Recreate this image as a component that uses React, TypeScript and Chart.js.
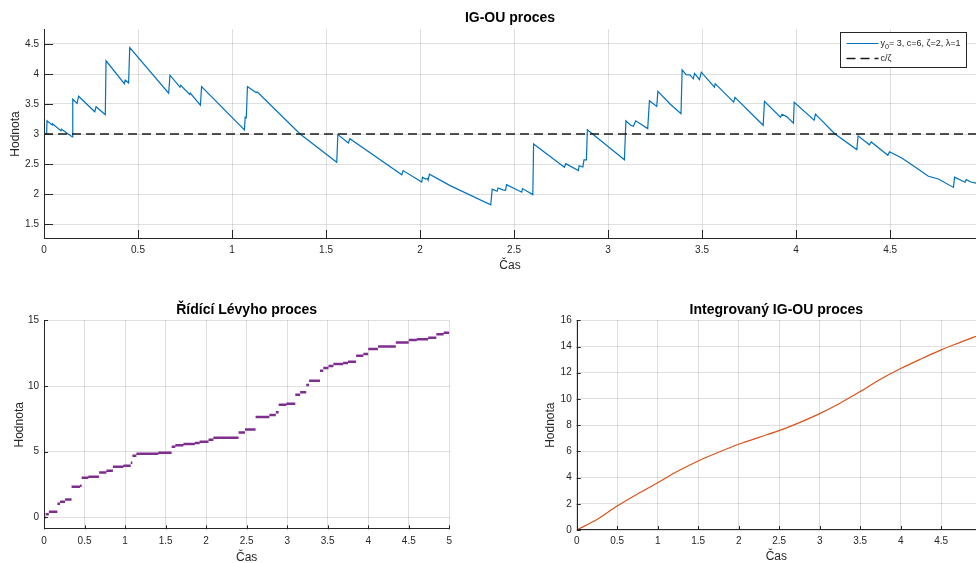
import React, { useEffect, useRef } from "react";
import { Chart, registerables } from "chart.js";

Chart.register(...registerables);

const FONT = "'Liberation Sans', Arial, Helvetica, sans-serif";
const TEXT = "#262626";
const GRID = "rgba(38,38,38,0.15)";

// ---------------- Panel 1: IG-OU proces ----------------
const igouTitle = "IG-OU proces";
const igouLabel = "y₀= 3, c=6, ζ=2, λ=1";
const meanLabel = "c/ζ";
const meanLevel = 3;
const igouTime = [
  0, 0.014, 0.016, 0.043, 0.045, 0.09, 0.093, 0.151, 0.153, 0.176, 0.184, 0.27, 0.277, 0.326, 0.33,
  0.427, 0.432, 0.45, 0.456, 0.663, 0.67, 0.723, 0.727, 0.775, 0.778, 0.832, 0.838, 1.066, 1.07,
  1.076, 1.082, 1.104, 1.128, 1.135, 1.362, 1.557, 1.563, 1.619, 1.627, 1.903, 1.91, 2.009, 2.013,
  2.03, 2.04, 2.043, 2.05, 2.16, 2.376, 2.384, 2.41, 2.415, 2.44, 2.455, 2.46, 2.541, 2.545, 2.6,
  2.604, 2.768, 2.775, 2.842, 2.846, 2.866, 2.872, 2.885, 2.89, 3.087, 3.095, 3.12, 3.135, 3.147,
  3.211, 3.22, 3.259, 3.265, 3.33, 3.388, 3.394, 3.415, 3.435, 3.454, 3.46, 3.486, 3.496, 3.566,
  3.57, 3.668, 3.675, 3.825, 3.832, 3.917, 3.925, 3.95, 3.986, 3.99, 4.096, 4.103, 4.207, 4.323,
  4.33, 4.39, 4.4, 4.488, 4.497, 4.562, 4.633, 4.704, 4.757, 4.837, 4.843, 4.899, 4.905, 4.93, 4.957,
];
const igouValue = [
  3.0, 3.0, 3.22, 3.15, 3.17, 3.055, 3.08, 2.95, 3.58, 3.51, 3.63, 3.37, 3.455, 3.32, 4.22,
  3.84, 3.9, 3.85, 4.44, 3.68, 3.98, 3.78, 3.81, 3.66, 3.68, 3.48, 3.79, 3.07, 3.28,
  3.27, 3.79, 3.74, 3.69, 3.7, 3.0, 2.53, 2.99, 2.85, 2.92, 2.32, 2.39, 2.2, 2.28,
  2.25, 2.26, 2.23, 2.33, 2.14, 1.82, 2.08, 2.045, 2.1, 2.07, 2.06, 2.155, 2.03, 2.09, 1.99,
  2.833, 2.445, 2.505, 2.39, 2.47, 2.45, 2.57, 2.57, 3.07, 2.57, 3.22, 3.145, 3.13, 3.22,
  3.09, 3.555, 3.46, 3.71, 3.5, 3.34, 4.07, 3.99, 3.985, 3.92, 4.01, 3.905, 4.03, 3.78,
  3.84, 3.53, 3.61, 3.145, 3.545, 3.28, 3.33, 3.29, 3.18, 3.53, 3.23, 3.33, 3.0, 2.74,
  2.97, 2.82, 2.867, 2.645, 2.705, 2.6, 2.45, 2.295, 2.25, 2.11, 2.28, 2.195, 2.24, 2.2, 2.18,
];
const igouXTicks = [0, 0.5, 1, 1.5, 2, 2.5, 3, 3.5, 4, 4.5];
const igouYTicks = [1.5, 2, 2.5, 3, 3.5, 4, 4.5];
const igouXRange = [0, 4.957];
const igouYRange = [1.25, 4.75];

// ---------------- Panel 2: Řídící Lévyho proces ----------------
const levyTitle = "Řídící Lévyho proces";
const levyStart = [
  0, 0.02, 0.06, 0.165, 0.198, 0.26, 0.34, 0.445, 0.465, 0.547, 0.68, 0.77, 0.85, 0.98, 1.07, 1.09,
  1.14, 1.41, 1.575, 1.62, 1.72, 1.86, 1.92, 2.03, 2.09, 2.4, 2.48, 2.61, 2.78, 2.86, 2.895, 2.99,
  3.1, 3.16, 3.235, 3.27, 3.405, 3.445, 3.51, 3.57, 3.69, 3.75, 3.85, 3.94, 4.0, 4.12, 4.34, 4.5,
  4.6, 4.74, 4.84, 4.93,
];
const levyEnd = [
  0.02, 0.06, 0.165, 0.198, 0.26, 0.34, 0.445, 0.465, 0.547, 0.68, 0.77, 0.85, 0.98, 1.07, 1.09, 1.14,
  1.41, 1.575, 1.62, 1.72, 1.86, 1.92, 2.03, 2.09, 2.4, 2.48, 2.61, 2.78, 2.86, 2.895, 2.99, 3.1,
  3.16, 3.235, 3.27, 3.405, 3.445, 3.51, 3.57, 3.69, 3.75, 3.85, 3.94, 4.0, 4.12, 4.34, 4.5, 4.6,
  4.74, 4.84, 4.93, 5.0,
];
const levyLevel = [
  0, 0.25, 0.43, 1.04, 1.19, 1.37, 2.33, 2.42, 3.02, 3.1, 3.43, 3.55, 3.86, 3.93, 4.16, 4.7,
  4.85, 4.92, 5.38, 5.5, 5.58, 5.66, 5.76, 5.91, 6.07, 6.47, 6.7, 7.64, 7.79, 8.0, 8.58, 8.65,
  9.34, 9.52, 10.08, 10.4, 11.17, 11.37, 11.52, 11.68, 11.75, 11.85, 12.31, 12.44, 12.82, 13.0, 13.32, 13.5,
  13.55, 13.68, 13.93, 14.06,
];
const levyXTicks = [0, 0.5, 1, 1.5, 2, 2.5, 3, 3.5, 4, 4.5, 5];
const levyYTicks = [0, 5, 10, 15];
const levyXRange = [0, 5];
const levyYRange = [-0.9, 15];

// ---------------- Panel 3: Integrovaný IG-OU proces ----------------
const intTitle = "Integrovaný IG-OU proces";
const intTime = [0, 0.25, 0.5, 0.75, 1, 1.25, 1.5, 1.75, 2, 2.25, 2.5, 2.75, 3, 3.25, 3.5, 3.75, 4, 4.25, 4.5, 4.75, 4.93];
const intValue = [0, 0.8, 1.83, 2.75, 3.61, 4.5, 5.27, 5.93, 6.54, 7.07, 7.58, 8.19, 8.88, 9.67, 10.56, 11.5, 12.32, 13.05, 13.74, 14.35, 14.78];
const intXTicks = [0, 0.5, 1, 1.5, 2, 2.5, 3, 3.5, 4, 4.5];
const intYTicks = [0, 2, 4, 6, 8, 10, 12, 14, 16];
const intXRange = [0, 4.93];
const intYRange = [0, 16];

const xLabel = "Čas";
const yLabel = "Hodnota";

// ---------------- helpers ----------------
const SUBS = "₀₁₂₃₄₅₆₇₈₉";

function drawRichText(ctx: CanvasRenderingContext2D, text: string, x: number, y: number, size: number) {
  let cx = x;
  for (const ch of Array.from(text)) {
    const si = SUBS.indexOf(ch);
    if (si >= 0) {
      ctx.font = `${size * 0.8}px ${FONT}`;
      const s = String(si);
      ctx.fillText(s, cx, y + size * 0.35);
      cx += ctx.measureText(s).width;
    } else {
      ctx.font = `${size}px ${FONT}`;
      ctx.fillText(ch, cx, y);
      cx += ctx.measureText(ch).width;
    }
  }
}

function drawLegend(chart: any) {
  const ctx: CanvasRenderingContext2D = chart.ctx;
  const a = chart.chartArea;
  const w = 126;
  const h = 35;
  const x0 = Math.round(a.right - 10 - w) + 0.5;
  const y0 = Math.round(a.top + 3) + 0.5;
  ctx.fillStyle = "#fff";
  ctx.fillRect(x0, y0, w, h);
  ctx.strokeStyle = TEXT;
  ctx.lineWidth = 1;
  ctx.setLineDash([]);
  ctx.strokeRect(x0, y0, w, h);
  const datasets = chart.data.datasets;
  datasets.forEach((ds: any, i: number) => {
    const ry = y0 + 11 + i * 15;
    ctx.save();
    ctx.strokeStyle = ds.borderColor;
    ctx.lineWidth = ds.borderWidth;
    ctx.setLineDash(ds.borderDash || []);
    ctx.beginPath();
    ctx.moveTo(x0 + 6, ry);
    ctx.lineTo(x0 + 38, ry);
    ctx.stroke();
    ctx.restore();
    ctx.fillStyle = TEXT;
    ctx.textAlign = "left";
    ctx.textBaseline = "middle";
    drawRichText(ctx, ds.label, x0 + 40, ry, 9);
  });
}

const matlabPlugin = {
  id: "matlab",
  afterDatasetsDraw(chart: any, _args: any, opts: any) {
    const ctx: CanvasRenderingContext2D = chart.ctx;
    const a = chart.chartArea;
    const xs = chart.scales.x;
    const ys = chart.scales.y;
    ctx.save();
    ctx.strokeStyle = TEXT;
    ctx.lineWidth = 1;
    ctx.setLineDash([]);
    ctx.beginPath();
    for (const t of xs.ticks) {
      const px = Math.round(xs.getPixelForValue(t.value)) + 0.5;
      ctx.moveTo(px, a.bottom);
      ctx.lineTo(px, a.bottom - opts.tickLen);
    }
    for (const t of ys.ticks) {
      const py = Math.round(ys.getPixelForValue(t.value)) + 0.5;
      ctx.moveTo(a.left, py);
      ctx.lineTo(a.left + opts.tickLen, py);
    }
    ctx.stroke();
    const lx = Math.round(a.left) + 0.5;
    const by = Math.round(a.bottom) - 0.5;
    ctx.beginPath();
    ctx.moveTo(lx, a.top);
    ctx.lineTo(lx, by);
    ctx.lineTo(a.right, by);
    ctx.stroke();
    ctx.fillStyle = "#000";
    ctx.font = `bold 14px ${FONT}`;
    ctx.textAlign = "center";
    ctx.textBaseline = "middle";
    ctx.fillText(opts.title, (a.left + a.right) / 2, a.top - opts.titleGap);
    if (opts.legend) drawLegend(chart);
    ctx.restore();
  },
};

function makeScale(
  range: number[],
  tickValues: number[],
  title: string,
  fitSize: number,
  horizontal: boolean,
  tickPad: number,
  titlePad: number
) {
  return {
    type: "linear",
    min: range[0],
    max: range[1],
    afterBuildTicks: (s: any) => {
      s.ticks = tickValues.map((v) => ({ value: v }));
    },
    afterFit: (s: any) => {
      if (horizontal) s.height = fitSize;
      else s.width = fitSize;
    },
    ticks: {
      font: { family: FONT, size: 10 },
      color: TEXT,
      padding: tickPad,
      maxRotation: 0,
      autoSkip: false,
      callback: (v: any) => String(v),
    },
    grid: { color: GRID, drawTicks: false, lineWidth: 1 },
    border: { display: false },
    title: {
      display: true,
      text: title,
      color: TEXT,
      font: { family: FONT, size: 12 },
      padding: horizontal ? { top: 0, bottom: titlePad } : { top: titlePad, bottom: 0 },
    },
  };
}

type PanelProps = {
  left: number;
  top: number;
  width: number;
  height: number;
  build: () => any;
};

function Panel({ left, top, width, height, build }: PanelProps) {
  const ref = useRef<HTMLCanvasElement | null>(null);
  useEffect(() => {
    if (!ref.current) return;
    const chart = new Chart(ref.current, build());
    return () => chart.destroy();
  }, []);
  return (
    <canvas
      ref={ref}
      width={width}
      height={height}
      style={{ position: "absolute", left, top, width, height }}
    />
  );
}

function buildTop() {
  const igouData = igouTime.map((t, i) => ({ x: t, y: igouValue[i] }));
  const meanData = [
    { x: igouXRange[0], y: meanLevel },
    { x: igouXRange[1], y: meanLevel },
  ];
  return {
    type: "line",
    data: {
      datasets: [
        {
          label: igouLabel,
          data: igouData,
          borderColor: "#0072BD",
          borderWidth: 1.2,
          pointRadius: 0,
          tension: 0,
          order: 1,
        },
        {
          label: meanLabel,
          data: meanData,
          borderColor: "#1a1a1a",
          borderWidth: 1.5,
          borderDash: [9, 5],
          pointRadius: 0,
          order: 0,
        },
      ],
    },
    options: {
      animation: false,
      responsive: false,
      devicePixelRatio: 1,
      events: [],
      layout: { padding: { top: 29, left: 0, right: 0, bottom: 0 } },
      plugins: {
        legend: { display: false },
        tooltip: { enabled: false },
        title: { display: false },
        matlab: { title: igouTitle, titleGap: 11, tickLen: 9, legend: true },
      },
      scales: {
        x: makeScale(igouXRange, igouXTicks, xLabel, 41, true, 5, 6.8),
        y: makeScale(igouYRange, igouYTicks, yLabel, 44, false, 5, 8.8),
      },
    },
    plugins: [matlabPlugin],
  };
}

function buildLevy() {
  const data: any[] = [];
  levyStart.forEach((t0, i) => {
    data.push({ x: t0, y: levyLevel[i] });
    data.push({ x: levyEnd[i], y: levyLevel[i] });
    data.push({ x: levyEnd[i], y: null });
  });
  return {
    type: "line",
    data: {
      datasets: [
        {
          label: levyTitle,
          data,
          borderColor: "#7E2F8E",
          borderWidth: 2.5,
          borderCapStyle: "butt",
          pointRadius: 0,
          spanGaps: false,
          tension: 0,
        },
      ],
    },
    options: {
      animation: false,
      responsive: false,
      devicePixelRatio: 1,
      events: [],
      layout: { padding: { top: 35.3, left: 0, right: 10.7, bottom: 0 } },
      plugins: {
        legend: { display: false },
        tooltip: { enabled: false },
        title: { display: false },
        matlab: { title: levyTitle, titleGap: 10.5, tickLen: 4, legend: false },
      },
      scales: {
        x: makeScale(levyXRange, levyXTicks, xLabel, 40.7, true, 6.4, 5.3),
        y: makeScale(levyYRange, levyYTicks, yLabel, 44, false, 5, 12),
      },
    },
    plugins: [matlabPlugin],
  };
}

function buildInt() {
  const data = intTime.map((t, i) => ({ x: t, y: intValue[i] }));
  return {
    type: "line",
    data: {
      datasets: [
        {
          label: intTitle,
          data,
          borderColor: "#D95319",
          borderWidth: 1.2,
          pointRadius: 0,
          cubicInterpolationMode: "monotone",
        },
      ],
    },
    options: {
      animation: false,
      responsive: false,
      devicePixelRatio: 1,
      events: [],
      layout: { padding: { top: 35.3, left: 0, right: 0, bottom: 0 } },
      plugins: {
        legend: { display: false },
        tooltip: { enabled: false },
        title: { display: false },
        matlab: { title: intTitle, titleGap: 10.5, tickLen: 4, legend: false },
      },
      scales: {
        x: makeScale(intXRange, intXTicks, xLabel, 40, true, 5.7, 5.8),
        y: makeScale(intYRange, intYTicks, yLabel, 56.7, false, 5, 23.6),
      },
    },
    plugins: [matlabPlugin],
  };
}

export default function App() {
  return (
    <div
      style={{
        position: "fixed",
        left: 0,
        top: 0,
        width: 976,
        height: 563,
        overflow: "hidden",
        background: "#fff",
      }}
    >
      <Panel left={0} top={0} width={976} height={280} build={buildTop} />
      <Panel left={0} top={285} width={460} height={285} build={buildLevy} />
      <Panel left={520} top={285} width={456} height={285} build={buildInt} />
    </div>
  );
}
